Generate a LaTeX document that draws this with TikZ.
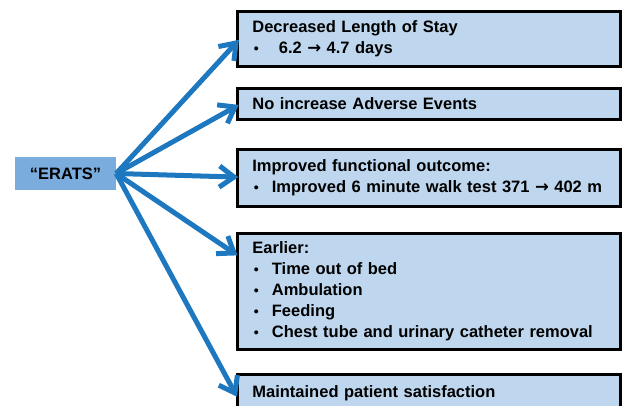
\documentclass[tikz,border=0pt]{standalone}
\usepackage{fontspec}
\setmainfont{Liberation Sans}
\newfontfamily\symfont{DejaVu Sans}
\usepackage{tikz}
\usetikzlibrary{arrows.meta,positioning,calc}
\definecolor{arrowblue}{RGB}{30,120,192}
\definecolor{keyblue}{RGB}{122,172,222}
\definecolor{paleblue}{RGB}{190,215,238}
\tikzstyle{key} = [rectangle, fill=keyblue, minimum width=101pt, minimum height=33pt,
                   text centered, font=\fontsize{16.5pt}{21pt}\selectfont\bfseries]
\tikzstyle{outcome} = [rectangle, anchor=north west, draw=black, line width=2.8pt,
                       fill=paleblue, minimum width=383pt, text width=353pt,
                       inner xsep=15pt, align=left,
                       font=\fontsize{16.5pt}{21pt}\selectfont\bfseries]
\tikzstyle{fan} = [line width=5pt, color=arrowblue, shorten >=2pt]
\tikzstyle{fanhead} = [line width=5pt, color=arrowblue, line join=miter]
% bullet line: small bullet, then the text after a tab stop
\newcommand{\bitem}[2][18pt]{\mbox{\hspace*{1.5pt}\makebox[#1][l]{\raisebox{0.5pt}{\fontsize{14pt}{14pt}\selectfont\textbullet}}#2}}
\newcommand{\becomes}{{\symfont\bfseries →}}

\begin{document}
\begin{tikzpicture}[x=1pt,y=1pt]
                \useasboundingbox (0,0) rectangle (623,406);
                \clip (0,0) rectangle (623,406);

                % starting point
                \node[key] (erats) at (65.5,232.5) {“ERATS”};

                % outcome boxes
                \node[outcome, minimum height=55pt] (stay) at (236,396)
                    {Decreased Length of Stay\\ \bitem[25pt]{6.2 \becomes\ 4.7 days}};
                \node[outcome, minimum height=31pt] (adverse) at (236,319)
                    {No increase Adverse Events};
                \node[outcome, minimum height=57pt] (walk) at (236,258)
                    {Improved functional outcome:\\ \bitem{Improved 6 minute walk test 371 \becomes\ 402 m}};
                \node[outcome, minimum height=116pt] (earlier) at (236,174)
                    {Earlier:\\ \bitem{Time out of bed}\\ \bitem{Ambulation}\\
                     \bitem{Feeding}\\ \bitem{Chest tube and urinary catheter removal}};
                \node[outcome, minimum height=38pt] (satis) at (236,33)
                    {Maintained patient satisfaction};

                % arrow tips on the left edges
                \coordinate (tstay) at ($(stay.north west)+(0,-33)$);
                \coordinate (tadverse) at ($(adverse.north west)+(-1,-20)$);
                \coordinate (twalk) at ($(walk.north west)+(-2,-29)$);
                \coordinate (tearlier) at ($(earlier.north west)+(-2,-21)$);
                \coordinate (tsatis) at ($(satis.north west)+(-1,-20)$);

                % arrows
                \foreach \t in {tstay,tadverse,twalk,tearlier,tsatis} {
                    \draw[fan] (erats.east) -- (\t);
                    \draw[fanhead] ($(\t)!18pt!36:(erats.east)$) -- (\t)
                        -- ($(\t)!18pt!-36:(erats.east)$);
                }
            \end{tikzpicture}
\end{document}
